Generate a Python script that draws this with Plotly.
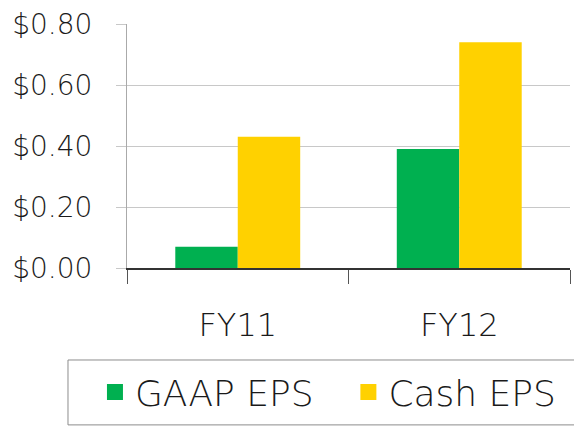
import plotly.graph_objects as go

# data
years = ['FY11', 'FY12']
gaap_eps = [0.07, 0.39]
cash_eps = [0.43, 0.74]
y_ticks = [0.0, 0.2, 0.4, 0.6, 0.8]

series = [('GAAP EPS', gaap_eps, '#00B050', 'legend'),
          ('Cash EPS', cash_eps, '#FFD100', 'legend2')]

font_name = 'DejaVu Sans, sans-serif'
text_color = '#1a1a1a'

# the page body has an 8px margin, so the figure is 8px smaller than the window
W, H = 574, 419

fig = go.Figure()
for name, vals, color, leg in series:
    fig.add_trace(go.Bar(x=years, y=vals, name=name, marker_color=color,
                         marker_line_width=0, showlegend=False))
    # legend-only entry so the key square can be bigger than the bar icon
    fig.add_trace(go.Scatter(x=[None], y=[None], mode='markers', name=name, legend=leg,
                             marker=dict(symbol='square', size=19, color=color)))

legend_font = dict(size=36, family=font_name, color=text_color, weight=200)
legend_common = dict(orientation='h', xref='container', yref='container',
                     xanchor='left', y=0.083, yanchor='middle',
                     borderwidth=0, bgcolor='rgba(0,0,0,0)',
                     font=legend_font, itemwidth=30)

fig.update_layout(
    width=W, height=H,
    margin=dict(l=119, r=12, t=16, b=159),
    paper_bgcolor='white', plot_bgcolor='white',
    barmode='group', bargap=0.436, bargroupgap=0,
    font=dict(family=font_name, color=text_color, weight=200),
    showlegend=True,
    legend=dict(x=0.1515, **legend_common),
    legend2=dict(x=0.593, **legend_common),
    # legend frame
    shapes=[dict(type='rect', xref='paper', yref='paper',
                 x0=-0.1332, x1=1.0226, y0=-0.643, y1=-0.377,
                 line=dict(color='#8c8c8c', width=1), fillcolor='rgba(0,0,0,0)')],
)
fig.update_xaxes(
    automargin=False,
    showline=True, linecolor='#333333', linewidth=1.5,
    ticks='outside', tickson='boundaries', ticklen=14, tickcolor='#555555',
    tickfont=dict(size=32), ticklabelstandoff=28, showgrid=False,
)
fig.update_yaxes(
    automargin=False, ticklabeloverflow='allow',
    range=[0, 0.8], tickvals=y_ticks, tickformat='$.2f',
    showline=True, linecolor='#aaaaaa', linewidth=1,
    showgrid=True, gridcolor='#c8c8c8', gridwidth=1,
    ticks='outside', ticklen=10, tickcolor='#c8c8c8',
    tickfont=dict(size=28), ticklabelstandoff=18, zeroline=False,
)

fig.write_html('out.html')
